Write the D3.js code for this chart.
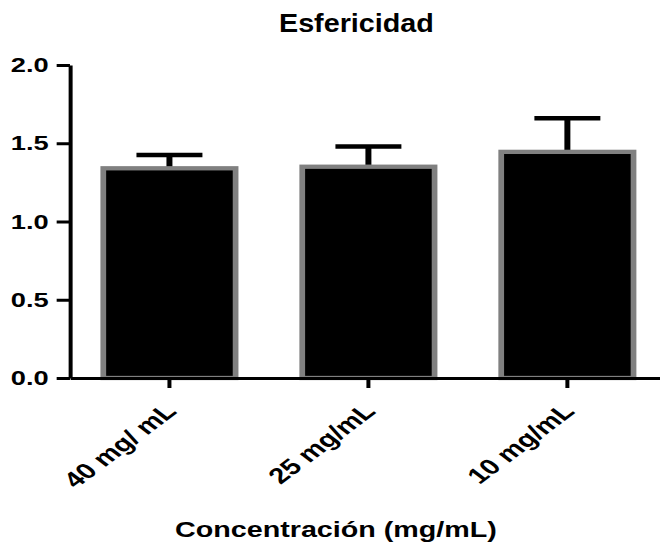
<!DOCTYPE html>
<html>
<head>
<meta charset="utf-8">
<script src="https://cdn.jsdelivr.net/npm/d3@7"></script>
<style>
  body { margin: 0; background: #fff; }
</style>
</head>
<body>
<svg id="chart" width="660" height="548"></svg>
<script>
// Sphericity by concentration (mean ± error)
const categories = ["40 mg/ mL", "25 mg/mL", "10 mg/mL"];
const means = [1.34, 1.35, 1.445];
const errors = [0.085, 0.13, 0.215];
const yTicks = [0, 0.5, 1.0, 1.5, 2.0];
const chartTitle = "Esfericidad";
const xTitle = "Concentración (mg/mL)";

const W = 660, H = 548;
const sx = 1.33;                 // horizontal stretch of the whole drawing
const font = "'Liberation Sans', Arial, Helvetica, sans-serif";

const svg = d3.select("#chart");
svg.append("rect").attr("width", W).attr("height", H).attr("fill", "#fff");
const g = svg.append("g").attr("transform", `scale(${sx},1)`);

const x = d3.scaleBand()
  .domain(categories)
  .range([52.6, 501.4])
  .paddingInner(0.335)
  .paddingOuter(0.1675);

const y = d3.scaleLinear().domain([0, 2]).range([378, 65]);

const data = categories.map((c, i) => ({ c, m: means[i], e: errors[i] }));

// error bars (drawn first so the bar border sits on top of the stem)
const capHalf = 24.8;
const eb = g.append("g").attr("stroke", "#000").attr("stroke-width", 4.5).attr("fill", "none");
eb.selectAll("line.stem").data(data).join("line")
  .attr("class", "stem")
  .attr("x1", d => x(d.c) + x.bandwidth() / 2)
  .attr("x2", d => x(d.c) + x.bandwidth() / 2)
  .attr("y1", d => y(d.m))
  .attr("y2", d => y(d.m + d.e));
eb.selectAll("line.cap").data(data).join("line")
  .attr("class", "cap")
  .attr("x1", d => x(d.c) + x.bandwidth() / 2 - capHalf)
  .attr("x2", d => x(d.c) + x.bandwidth() / 2 + capHalf)
  .attr("y1", d => y(d.m + d.e))
  .attr("y2", d => y(d.m + d.e));

// bars
g.append("g").selectAll("rect").data(data).join("rect")
  .attr("x", d => x(d.c))
  .attr("width", x.bandwidth())
  .attr("y", d => y(d.m))
  .attr("height", d => y(0) - y(d.m))
  .attr("fill", "#000")
  .attr("stroke", "#808080")
  .attr("stroke-width", 4.3);

// y axis
const yAxis = g.append("g")
  .attr("transform", `translate(${52.6},0)`)
  .call(d3.axisLeft(y).tickValues(yTicks).tickFormat(d3.format(".1f"))
    .tickSize(10).tickSizeOuter(0).tickPadding(6));

// x axis
const xAxis = g.append("g")
  .attr("transform", `translate(0,${y(0)})`)
  .call(d3.axisBottom(x).tickSize(10).tickSizeOuter(0));

[yAxis, xAxis].forEach(ax => {
  ax.attr("font-family", null).attr("font-size", null);
  ax.selectAll("path.domain").attr("stroke", "#000").attr("stroke-width", 3);
  ax.selectAll(".tick line").attr("stroke", "#000").attr("stroke-width", 3);
  ax.selectAll("text")
    .attr("fill", "#000")
    .style("font-family", font)
    .style("font-weight", "bold")
    .style("font-size", "20.5px");
});

xAxis.selectAll(".tick text")
  .attr("x", 0).attr("y", 0).attr("dy", "0.35em")
  .attr("text-anchor", "end")
  .attr("transform", "translate(1,29) rotate(-45)")
  .style("font-size", "22px");

// titles
g.append("text")
  .attr("x", 268).attr("y", 32)
  .attr("text-anchor", "middle")
  .attr("textLength", 116.5)
  .attr("lengthAdjust", "spacingAndGlyphs")
  .style("font-family", font).style("font-weight", "bold").style("font-size", "25px")
  .text(chartTitle);

g.append("text")
  .attr("x", 252.6).attr("y", 537)
  .attr("text-anchor", "middle")
  .attr("textLength", 242)
  .attr("lengthAdjust", "spacingAndGlyphs")
  .style("font-family", font).style("font-weight", "bold").style("font-size", "21.5px")
  .text(xTitle);
</script>
</body>
</html>
